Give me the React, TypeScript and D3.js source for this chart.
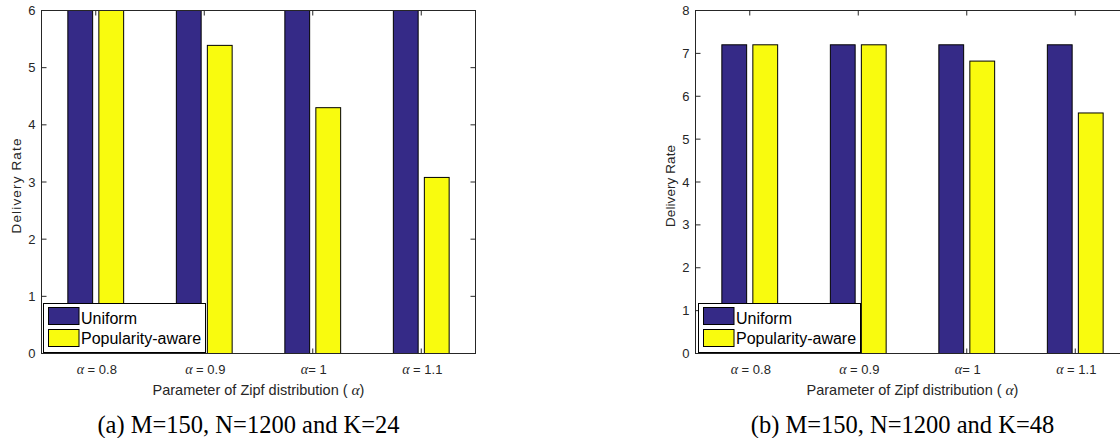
import React from "react";
import * as d3 from "d3";

const categories = ["α = 0.8", "α = 0.9", "α= 1", "α = 1.1"];
const seriesNames = ["Uniform", "Popularity-aware"];
const seriesColors = ["#352a87", "#f9fb0e"];
const uniformA = [7.5, 7.5, 7.5, 7.5];
const popularityA = [6.3, 5.39, 4.3, 3.08];
const uniformB = [7.2, 7.2, 7.2, 7.2];
const popularityB = [7.2, 7.2, 6.82, 5.61];
const yTicksA = [0, 1, 2, 3, 4, 5, 6];
const yTicksB = [0, 1, 2, 3, 4, 5, 6, 7, 8];
const captionA = "(a) M=150, N=1200 and K=24";
const captionB = "(b) M=150, N=1200 and K=48";

const SANS = "'Liberation Sans', Arial, Helvetica, sans-serif";
const SERIF = "'Liberation Serif', 'Times New Roman', serif";
const AX = "#262626";

function AlphaLabel({ text, x, y, size }: { text: string; x: number; y: number; size: number }) {
  const rest = text.slice(1);
  return (
    <text x={x} y={y} textAnchor="middle" fontFamily={SANS} fontSize={size} fill={AX}>
      <tspan fontFamily={SERIF} fontStyle="italic" fontSize={size + 1}>α</tspan>
      {rest}
    </text>
  );
}

function Chart({
  id, left, right, top, bottom, yMax, yTicks, series, legendX, caption, yLabelLen,
}: {
  id: string; left: number; right: number; top: number; bottom: number; yMax: number;
  yTicks: number[]; series: number[][]; legendX: number; caption: string; yLabelLen: number;
}) {
  const x = d3.scaleLinear().domain([0.5, categories.length + 0.5]).range([left, right]);
  const y = d3.scaleLinear().domain([0, yMax]).range([bottom, top]);
  const step = x(2) - x(1);
  const inner = d3.scaleBand<number>()
    .domain(series.map((_, i) => i))
    .range([-step * 0.2857, step * 0.2857])
    .paddingInner(0.2)
    .paddingOuter(0.1);
  const tick = 5;
  const mid = (left + right) / 2;
  const midY = (top + bottom) / 2;
  return (
    <g>
      <defs>
        <clipPath id={`clip-${id}`}>
          <rect x={left} y={top} width={right - left} height={bottom - top} />
        </clipPath>
      </defs>
      <g clipPath={`url(#clip-${id})`}>
        {categories.map((c, ci) =>
          series.map((vals, si) => {
            const bx = x(ci + 1) + (inner(si) as number);
            const yv = y(vals[ci]);
            return (
              <rect key={`${c}-${si}`} x={bx} y={yv} width={inner.bandwidth()} height={y(0) - yv}
                fill={seriesColors[si]} stroke="#000" strokeWidth={1} />
            );
          })
        )}
      </g>
      <rect x={left} y={top} width={right - left} height={bottom - top} fill="none" stroke={AX} strokeWidth={1} />
      {categories.map((c, ci) => (
        <g key={c}>
          <line x1={x(ci + 1)} x2={x(ci + 1)} y1={bottom} y2={bottom - tick} stroke={AX} />
          <line x1={x(ci + 1)} x2={x(ci + 1)} y1={top} y2={top + tick} stroke={AX} />
          <AlphaLabel text={c} x={x(ci + 1) + 1} y={bottom + 20} size={13} />
        </g>
      ))}
      {yTicks.map((t) => (
        <g key={t}>
          <line x1={left} x2={left + tick} y1={y(t)} y2={y(t)} stroke={AX} />
          <line x1={right} x2={right - tick} y1={y(t)} y2={y(t)} stroke={AX} />
          <text x={left - 6} y={y(t)} dy="0.35em" textAnchor="end" fontFamily={SANS} fontSize={13} fill={AX}>
            {t}
          </text>
        </g>
      ))}
      <text x={mid} y={bottom + 41} textAnchor="middle" fontFamily={SANS} fontSize={14.5} fill={AX}>
        Parameter of Zipf distribution (
        <tspan fontFamily={SERIF} fontStyle="italic" fontSize={15.5}> α</tspan>)
      </text>
      <text transform={`translate(${left - 20.5},${midY + 4}) rotate(-90)`} textAnchor="middle"
        fontFamily={SANS} fontSize={13.5} fill={AX} textLength={yLabelLen} lengthAdjust="spacing">
        Delivery Rate
      </text>
      <g>
        <rect x={legendX} y={303.5} width={162} height={49} fill="#fff" stroke="#000" strokeWidth={1} />
        {seriesNames.map((s, i) => (
          <g key={s}>
            <rect x={legendX + 5} y={307.5 + i * 22} width={30.5} height={17} fill={seriesColors[i]} stroke="#000" strokeWidth={1} />
            <text x={legendX + 37.5} y={323.5 + i * 20.5} fontFamily={SANS} fontSize={16} fill="#000">{s}</text>
          </g>
        ))}
      </g>
      <text x={mid - 10} y={433} textAnchor="middle" fontFamily={SERIF} fontSize={24.5} fill="#000">
        {caption}
      </text>
    </g>
  );
}

export default function App() {
  return (
    <svg width={1120} height={438} style={{ position: "absolute", left: 0, top: 0, background: "#fff" }}>
      <rect x={0} y={0} width={1120} height={438} fill="#fff" />
      <Chart id="a" left={41.5} right={475.5} top={10.5} bottom={353.5} yMax={6} yTicks={yTicksA}
        series={[uniformA, popularityA]} legendX={43.5} caption={captionA} yLabelLen={95} />
      <Chart id="b" left={695.5} right={1129.5} top={10.5} bottom={353.5} yMax={8} yTicks={yTicksB}
        series={[uniformB, popularityB]} legendX={698.5} caption={captionB} yLabelLen={82} />
    </svg>
  );
}
